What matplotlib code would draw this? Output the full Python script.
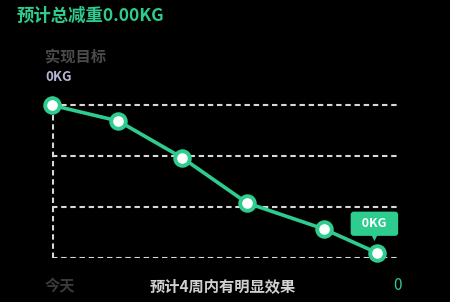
import matplotlib.pyplot as plt

plt.rcParams['font.family'] = ['Noto Sans CJK SC', 'DejaVu Sans']

# data
x = [0, 1.02, 2.0, 3.0, 4.18, 5.0]
y = [3.0, 2.69, 1.97, 1.08, 0.57, 0.1]
grid_y = [0, 1, 2, 3]
title = '预计总减重0.00KG'
target_label = '实现目标'
target_value = '0KG'
tip_text = '0KG'
left_label = '今天'
mid_label = '预计4周内有明显效果'
right_label = '0'

green = '#2ecc8f'
W, H = 450, 302

fig = plt.figure(figsize=(W / 100, H / 100), dpi=100, facecolor='black')
ax = fig.add_axes([52 / W, (H - 258) / H, (398 - 52) / W, (258 - 93) / H])
ax.set_facecolor('black')
ax.set_xlim(0, 5.32)
ax.set_ylim(0, 3.24)

for g in grid_y:
    ax.axhline(g, color='#d8d8d8', lw=1.5, ls=(0, (2.6, 1.8)), zorder=1)
ax.axvline(0.01, color='#d8d8d8', lw=1.5, ls=(0, (2.6, 1.8)), zorder=1)

ax.plot(x, y, color=green, lw=2.6, zorder=3, clip_on=False)
ax.plot(x, y, 'o', ms=10.5, mfc='white', mec=green, mew=2.8, zorder=4, clip_on=False)

for s in ax.spines.values():
    s.set_visible(False)
ax.set_xticks([])
ax.set_yticks([])

# tooltip over the last point
ax.annotate('  ' + tip_text + '  ', (x[-1], y[-1]), xytext=(-2, 21), textcoords='offset points',
            ha='center', va='center', color='white', fontsize=9, fontweight='bold',
            bbox=dict(boxstyle='round,pad=0.45,rounding_size=0.25', fc=green, ec='none'),
            zorder=5)
ax.annotate('\u25bc', (x[-1], y[-1]), xytext=(-2, 11), textcoords='offset points',
            ha='center', va='center', color=green, fontsize=6.5, family='DejaVu Sans', zorder=5)

fig.text(17 / W, 1 - 16 / H, title, color=green, fontsize=12.5, fontweight='bold',
         va='center', ha='left')
fig.text(45 / W, 1 - 57 / H, target_label, color='#4a4a4a', fontsize=11, fontweight='bold',
         va='center', ha='left')
fig.text(45 / W, 1 - 77 / H, target_value, color='#b4b4d4', fontsize=9.5, fontweight='bold',
         va='center', ha='left')
fig.text(45 / W, 1 - 286 / H, left_label, color='#3a3a3a', fontsize=11, fontweight='bold',
         va='center', ha='left')
fig.text(223 / W, 1 - 286 / H, mid_label, color='#d0d0d0', fontsize=11, fontweight='bold',
         va='center', ha='center')
fig.text(397 / W, 1 - 286 / H, right_label, color=green, fontsize=11,
         va='center', ha='center')

fig.savefig('out.png', facecolor='black')
